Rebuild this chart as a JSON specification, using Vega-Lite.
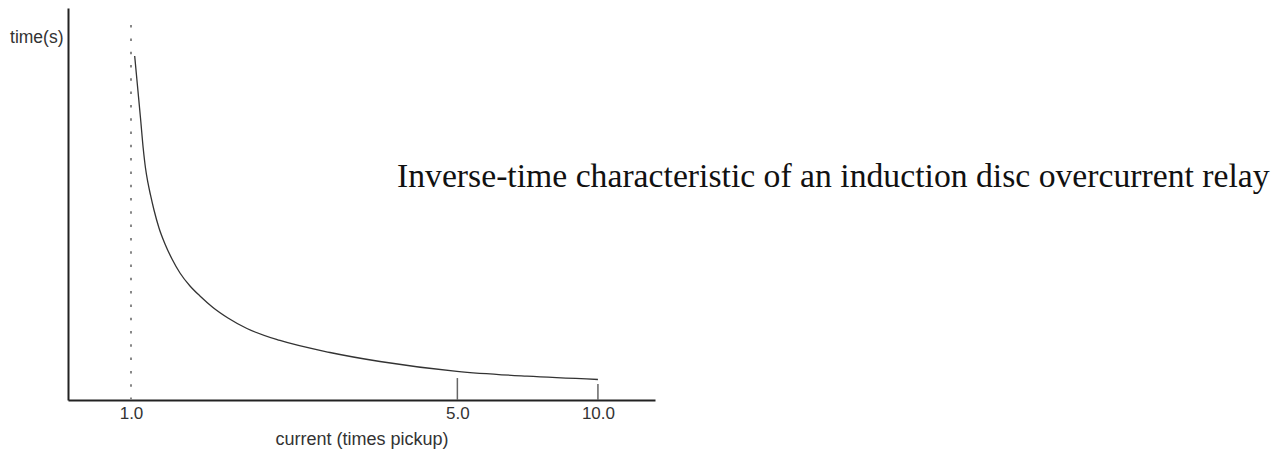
{
  "$schema": "https://vega.github.io/schema/vega-lite/v6.json",
  "width": 587,
  "height": 392,
  "autosize": {"type": "none"},
  "padding": {"left": 68, "top": 8, "right": 619, "bottom": 52},
  "background": "white",
  "config": {
    "view": {"stroke": null},
    "axis": {"labelFont": "Liberation Sans", "titleFont": "Liberation Sans"}
  },
  "title": {
    "text": "Inverse-time characteristic of an induction disc overcurrent relay",
    "anchor": "start",
    "frame": "group",
    "orient": "top",
    "offset": 0,
    "baseline": "alphabetic",
    "dx": 329,
    "dy": 213,
    "font": "Liberation Serif",
    "fontSize": 33.7,
    "fontWeight": "normal",
    "color": "#111111"
  },
  "datasets": {
    "curve": [
      {"current": 1.0184, "time": 8.776},
      {"current": 1.0326, "time": 8.010},
      {"current": 1.0480, "time": 7.194},
      {"current": 1.0620, "time": 6.429},
      {"current": 1.0741, "time": 5.918},
      {"current": 1.0874, "time": 5.536},
      {"current": 1.1009, "time": 5.230},
      {"current": 1.1201, "time": 4.847},
      {"current": 1.1481, "time": 4.388},
      {"current": 1.1826, "time": 3.980},
      {"current": 1.2242, "time": 3.597},
      {"current": 1.2733, "time": 3.240},
      {"current": 1.3378, "time": 2.908},
      {"current": 1.4051, "time": 2.653},
      {"current": 1.4980, "time": 2.360},
      {"current": 1.6132, "time": 2.092},
      {"current": 1.7714, "time": 1.824},
      {"current": 2.0847, "time": 1.518},
      {"current": 2.6680, "time": 1.212},
      {"current": 3.4138, "time": 0.982},
      {"current": 4.9897, "time": 0.732},
      {"current": 7.0469, "time": 0.607},
      {"current": 10.0, "time": 0.523}
    ],
    "pickup": [{"current": 1.0, "time": 0, "time2": 9.8}],
    "ticks": [
      {"current": 5.0, "time": 0, "time2": 0.56},
      {"current": 10.0, "time": 0, "time2": 0.41}
    ]
  },
  "encoding": {
    "x": {
      "field": "current",
      "type": "quantitative",
      "scale": {"type": "log", "domain": [0.733, 13.25], "nice": false},
      "axis": {
        "values": [1, 5, 10],
        "format": ".1f",
        "title": "current (times pickup)",
        "ticks": false,
        "grid": false,
        "domainColor": "#222222",
        "domainWidth": 2,
        "labelFontSize": 17,
        "labelColor": "#333333",
        "labelPadding": 5,
        "labelFlush": false,
        "titleFontSize": 18,
        "titleFontWeight": "normal",
        "titleColor": "#333333",
        "titlePadding": 9
      }
    },
    "y": {
      "field": "time",
      "type": "quantitative",
      "scale": {"domain": [0, 10], "nice": false, "zero": true},
      "axis": {
        "title": "time(s)",
        "labels": false,
        "ticks": false,
        "grid": false,
        "domainColor": "#222222",
        "domainWidth": 2,
        "titleAngle": 0,
        "titleAlign": "right",
        "titleBaseline": "middle",
        "titleX": -5,
        "titleY": 29,
        "titleFontSize": 17.5,
        "titleFontWeight": "normal",
        "titleColor": "#333333"
      }
    }
  },
  "layer": [
    {
      "data": {"name": "pickup"},
      "mark": {"type": "rule", "color": "#888888", "strokeWidth": 2, "strokeDash": [2.5, 10.8]},
      "encoding": {"y2": {"field": "time2"}}
    },
    {
      "data": {"name": "ticks"},
      "mark": {"type": "rule", "color": "#666666", "strokeWidth": 1.5},
      "encoding": {"y2": {"field": "time2"}}
    },
    {
      "data": {"name": "curve"},
      "mark": {"type": "line", "color": "#333333", "strokeWidth": 1.3, "interpolate": "monotone"},
      "encoding": {"order": {"field": "current", "type": "quantitative"}}
    }
  ]
}
